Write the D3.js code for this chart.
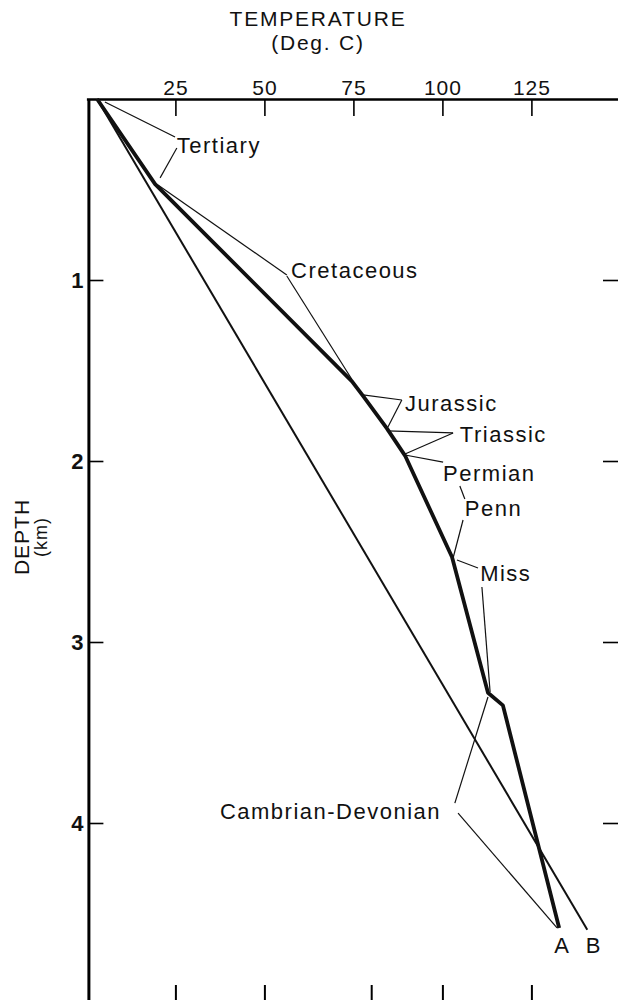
<html>
<meta charset='utf-8'>
<head>
    <script src="https://d3js.org/d3.v7.min.js"></script>
    <style>
      body { margin: 0; background: #fff; }
      text { font-family: "Liberation Sans", Arial, sans-serif; fill: #111; }
    </style>
</head>
<body>
<div id='viz'></div>
<script>
    // temperature axis ticks (deg C) and depth ticks (km)
    const tempTicks = [25, 50, 75, 100, 125];
    const bottomTickTemps = [25, 50, 80, 100, 125];
    const depthTicks = [1, 2, 3, 4];

    // profile A (formation boundaries), thick line
    const curveATemp  = [3, 19.3, 74.6, 77.7, 84.4, 89.5, 102.7, 112.8, 117.0, 132.8];
    const curveADepth = [0, 0.47, 1.56, 1.64, 1.82, 1.97, 2.53, 3.28, 3.35, 4.58];

    // profile B, thin straight line
    const lineBTemp  = [3, 140.7];
    const lineBDepth = [0, 4.59];

    // formation labels: [text, temp, depth]
    const labels = [
      ['Tertiary', 25.4, 0.298],
      ['Cretaceous', 57.5, 0.989],
      ['Jurassic', 89.5, 1.724],
      ['Triassic', 104.9, 1.895],
      ['Permian', 100.2, 2.110],
      ['Penn', 106.3, 2.304],
      ['Miss', 110.6, 2.663],
      ['Cambrian-Devonian', 37.5, 3.978]
    ];
    const endLabels = [['A', 133.5, 4.718], ['B', 142.3, 4.718]];

    // leader lines: [t1, d1, t2, d2]
    const leaders = [
      [5.2, 0.017, 24.9, 0.21],
      [25.4, 0.271, 20.7, 0.436],
      [20.1, 0.475, 56.3, 0.972],
      [56.3, 0.978, 74.6, 1.55],
      [77.7, 1.635, 88.6, 1.663],
      [84.7, 1.812, 88.6, 1.663],
      [84.4, 1.834, 103.0, 1.845],
      [89.5, 1.961, 103.0, 1.845],
      [89.5, 1.967, 100.2, 2.006],
      [104.9, 2.138, 106.3, 2.21],
      [105.8, 2.326, 103.0, 2.536],
      [104.1, 2.547, 110.0, 2.591],
      [111.1, 2.696, 113.4, 3.276],
      [103.5, 3.890, 112.8, 3.304],
      [104.4, 3.945, 132.2, 4.580]
    ];

    function createViz() {
        let svg = d3.select('#viz').append('svg')
                    .attr('width', 618)
                    .attr('height', 1000);

        let x = d3.scaleLinear().domain([0, 150]).range([86.4, 620.4]);
        let y = d3.scaleLinear().domain([0, 5]).range([99, 1004]);

        // top axis, ticks pointing down, labels above
        let top = svg.append('g')
            .attr('transform', `translate(0,${y(0)})`)
            .call(d3.axisTop(x).tickValues(tempTicks).tickSize(-17).tickSizeOuter(0).tickPadding(4));
        top.select('.domain').attr('stroke-width', 2.5);
        top.selectAll('.tick line').attr('stroke-width', 1.6);
        top.selectAll('.tick text')
            .attr('font-size', 21).attr('letter-spacing', 1)
            .style('font-family', '"Liberation Sans", Arial, sans-serif').attr('fill', '#111');

        // left axis
        let left = svg.append('g')
            .attr('transform', `translate(${x(0) + 2},0)`)
            .call(d3.axisLeft(y).tickValues(depthTicks).tickFormat(d3.format('d'))
                    .tickSize(-15).tickSizeOuter(0).tickPadding(5));
        left.select('.domain').attr('stroke-width', 3);
        left.selectAll('.tick line').attr('stroke-width', 1.6);
        left.selectAll('.tick text')
            .attr('font-size', 22).attr('font-weight', 'bold')
            .style('font-family', '"Liberation Sans", Arial, sans-serif').attr('fill', '#111');

        // right ticks only
        let right = svg.append('g')
            .attr('transform', 'translate(618,0)')
            .call(d3.axisRight(y).tickValues(depthTicks).tickSize(-15).tickFormat(''));
        right.select('.domain').remove();
        right.selectAll('.tick line').attr('stroke-width', 1.6);

        // bottom ticks only
        let bottom = svg.append('g')
            .attr('transform', 'translate(0,1000)')
            .call(d3.axisBottom(x).tickValues(bottomTickTemps).tickSize(-15).tickFormat(''));
        bottom.select('.domain').remove();
        bottom.selectAll('.tick line').attr('stroke-width', 2);

        // axis titles
        svg.append('text').attr('x', 318).attr('y', 26)
            .attr('text-anchor', 'middle').attr('font-size', 21).attr('letter-spacing', 1.8)
            .text('TEMPERATURE');
        svg.append('text').attr('x', 318).attr('y', 50)
            .attr('text-anchor', 'middle').attr('font-size', 21).attr('letter-spacing', 1.8)
            .text('(Deg. C)');
        svg.append('text').attr('transform', 'translate(29,537) rotate(-90)')
            .attr('text-anchor', 'middle').attr('font-size', 21).attr('letter-spacing', 1)
            .text('DEPTH');
        svg.append('text').attr('transform', 'translate(47,537) rotate(-90)')
            .attr('text-anchor', 'middle').attr('font-size', 18).attr('letter-spacing', 1)
            .text('(km)');

        let line = d3.line().x(d => x(d[0])).y(d => y(d[1]));

        // leaders
        svg.selectAll('.leader').data(leaders).enter().append('line')
            .attr('class', 'leader')
            .attr('x1', d => x(d[0])).attr('y1', d => y(d[1]))
            .attr('x2', d => x(d[2])).attr('y2', d => y(d[3]))
            .attr('stroke', '#111').attr('stroke-width', 1.2);

        // profile B
        svg.append('path')
            .datum(lineBTemp.map((t, i) => [t, lineBDepth[i]]))
            .attr('d', line)
            .attr('fill', 'none').attr('stroke', '#111').attr('stroke-width', 2);

        // profile A
        svg.append('path')
            .datum(curveATemp.map((t, i) => [t, curveADepth[i]]))
            .attr('d', line)
            .attr('fill', 'none').attr('stroke', '#111').attr('stroke-width', 3.8)
            .attr('stroke-linejoin', 'round');

        // formation labels
        svg.selectAll('.lab').data(labels).enter().append('text')
            .attr('class', 'lab')
            .attr('x', d => x(d[1])).attr('y', d => y(d[2]))
            .attr('font-size', 22).attr('letter-spacing', 1.5)
            .text(d => d[0]);

        svg.selectAll('.endlab').data(endLabels).enter().append('text')
            .attr('class', 'endlab')
            .attr('x', d => x(d[1])).attr('y', d => y(d[2]))
            .attr('text-anchor', 'middle')
            .attr('font-size', 22)
            .text(d => d[0]);
    }

    createViz();
</script>
</body>
</html>
